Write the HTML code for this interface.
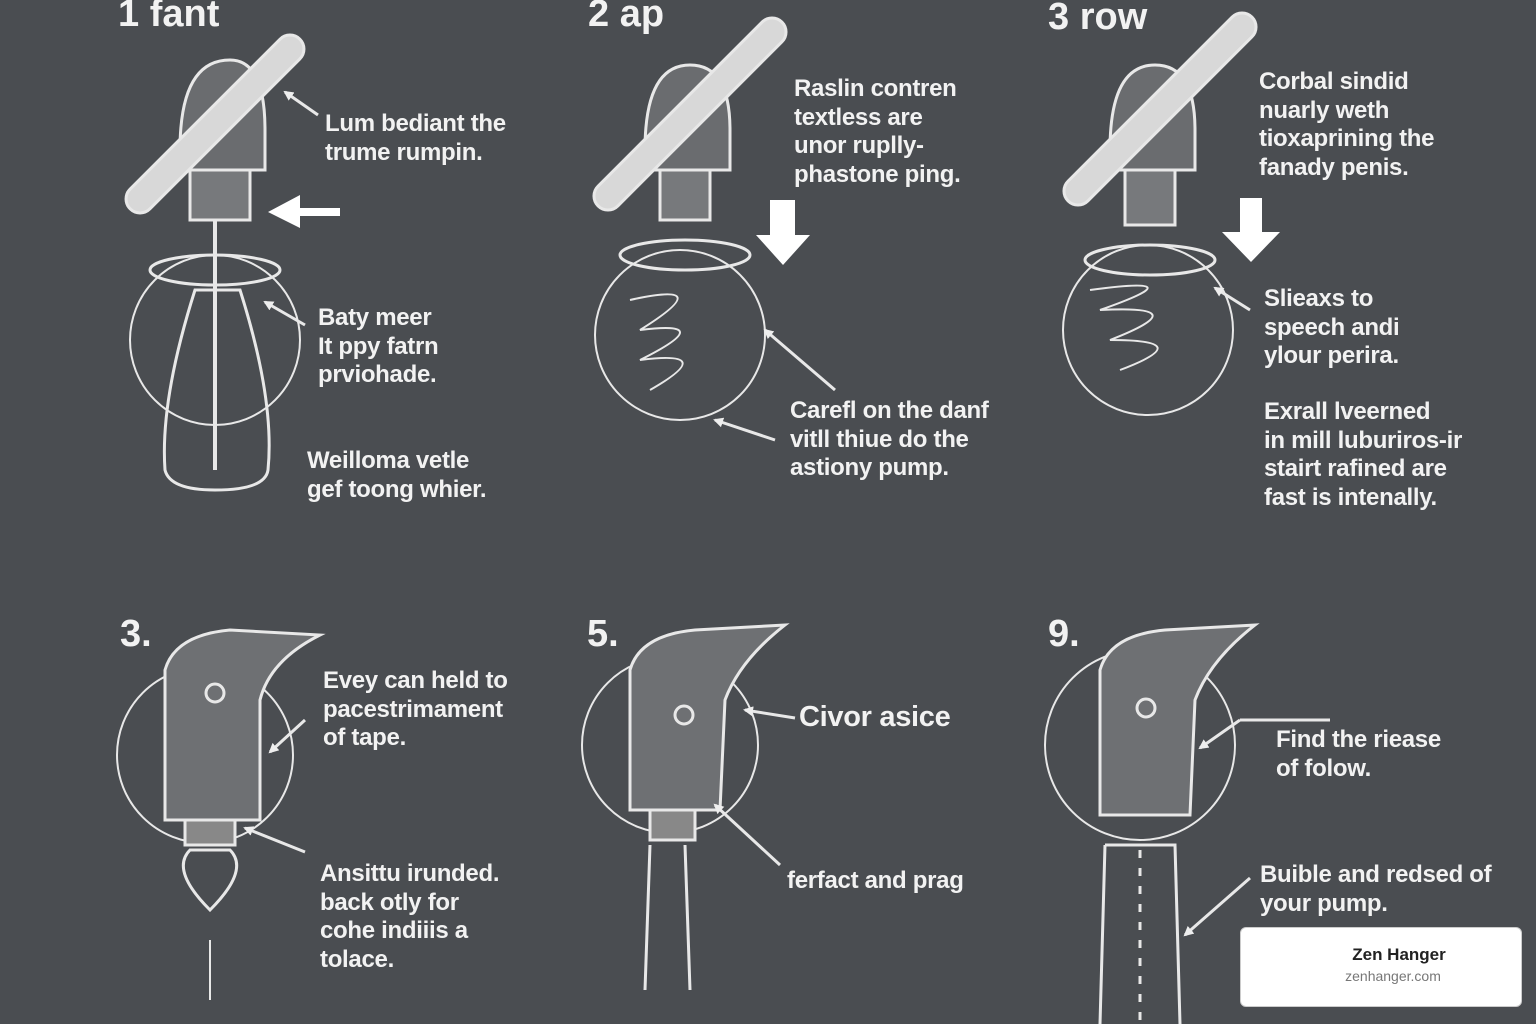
<!DOCTYPE html>
<html><head><meta charset="utf-8"><style>
html,body{margin:0;padding:0}
body{width:1536px;height:1024px;background:#4a4d51;position:relative;overflow:hidden;font-family:"Liberation Sans",sans-serif;color:#f2f2f2}
.t{position:absolute;font-weight:bold;font-size:24px;line-height:28.5px;white-space:nowrap;letter-spacing:-0.3px}
.h{position:absolute;font-weight:bold;font-size:38px;line-height:40px}
svg{position:absolute;left:0;top:0}
.badge{position:absolute;left:1240px;top:927px;width:280px;height:78px;background:#fff;border-radius:6px;border:1px solid #ccc;text-align:center}
</style></head><body>
<svg width="1536" height="1024" viewBox="0 0 1536 1024" fill="none" stroke="#e8e8e8" stroke-width="3">
<defs><marker id="a" markerWidth="10" markerHeight="10" refX="8" refY="5" orient="auto" markerUnits="userSpaceOnUse"><path d="M0 0 L10 5 L0 10 Z" fill="#eee" stroke="none"/></marker></defs>
<g>
<path d="M180 150 Q180 60 230 60 Q265 60 265 130 L265 170 L190 170 Z" fill="#6a6c6f"/>
<rect x="190" y="170" width="60" height="50" fill="#77797c"/>
<rect x="95" y="110" width="240" height="28" rx="14" transform="rotate(-45 215 124)" fill="#d8d8d8"/>
<ellipse cx="215" cy="270" rx="65" ry="15"/>
<circle cx="215" cy="340" r="85" stroke-width="2"/>
<path d="M195 290 Q160 400 165 470 Q170 490 215 490 Q265 490 268 470 Q275 400 240 290 Z"/>
<line x1="215" y1="220" x2="215" y2="470" stroke-width="4"/>
<path d="M340 208 L300 208 L300 195 L268 212 L300 228 L300 216 L340 216 Z" fill="#fff" stroke="none"/>
<line x1="318" y1="115" x2="285" y2="92" marker-end="url(#a)"/><line x1="305" y1="325" x2="265" y2="302" marker-end="url(#a)"/>
</g>
<g>
<path d="M645 150 Q645 65 690 65 Q730 65 730 130 L730 170 L650 170 Z" fill="#6a6c6f"/>
<rect x="660" y="170" width="50" height="50" fill="#77797c"/>
<rect x="560" y="100" width="260" height="28" rx="14" transform="rotate(-45 690 114)" fill="#d8d8d8"/>
<ellipse cx="685" cy="255" rx="65" ry="15"/>
<circle cx="680" cy="335" r="85" stroke-width="2"/>
<path d="M630 300 Q720 280 640 330 Q720 320 640 360 Q720 350 650 390" stroke-width="2"/>
<path d="M770 200 L795 200 L795 235 L810 235 L783 265 L756 235 L770 235 Z" fill="#fff" stroke="none"/>
<line x1="835" y1="390" x2="765" y2="330" marker-end="url(#a)"/><line x1="775" y1="440" x2="715" y2="420" marker-end="url(#a)"/>
</g>
<g>
<path d="M1110 150 Q1110 65 1155 65 Q1195 65 1195 130 L1195 170 L1115 170 Z" fill="#6a6c6f"/>
<rect x="1125" y="170" width="50" height="55" fill="#77797c"/>
<rect x="1030" y="95" width="260" height="28" rx="14" transform="rotate(-45 1160 109)" fill="#d8d8d8"/>
<ellipse cx="1150" cy="260" rx="65" ry="15"/>
<circle cx="1148" cy="330" r="85" stroke-width="2"/>
<path d="M1090 290 Q1200 275 1100 310 Q1200 305 1110 340 Q1200 340 1120 370" stroke-width="2"/>
<path d="M1240 198 L1262 198 L1262 232 L1280 232 L1251 262 L1222 232 L1240 232 Z" fill="#fff" stroke="none"/>
<line x1="1250" y1="310" x2="1215" y2="288" marker-end="url(#a)"/>
</g>
<g>
<circle cx="205" cy="755" r="88" stroke-width="2"/>
<path d="M165 670 Q175 635 230 630 L320 635 Q270 660 260 700 L260 820 L165 820 Z" fill="#6e7073"/>
<circle cx="215" cy="693" r="9"/>
<rect x="185" y="820" width="50" height="25" fill="#888"/>
<path d="M190 850 Q170 870 210 910 Q250 870 230 850 Z"/>
<line x1="210" y1="940" x2="210" y2="1000" stroke-width="2"/>
<line x1="305" y1="720" x2="270" y2="752" marker-end="url(#a)"/><line x1="305" y1="852" x2="245" y2="828" marker-end="url(#a)"/>
</g>
<g>
<circle cx="670" cy="745" r="88" stroke-width="2"/>
<path d="M630 670 Q640 635 695 630 L785 625 Q740 660 725 700 L720 810 L630 810 Z" fill="#6e7073"/>
<circle cx="684" cy="715" r="9"/>
<rect x="650" y="810" width="45" height="30" fill="#888"/>
<path d="M650 845 L645 990 M685 845 L690 990"/>
<line x1="795" y1="718" x2="745" y2="710" marker-end="url(#a)"/><line x1="780" y1="865" x2="715" y2="805" marker-end="url(#a)"/>
</g>
<g>
<circle cx="1140" cy="745" r="95" stroke-width="2"/>
<path d="M1100 670 Q1110 635 1165 630 L1255 625 Q1210 660 1195 700 L1190 815 L1100 815 Z" fill="#6e7073"/>
<circle cx="1146" cy="708" r="9"/>
<path d="M1105 845 L1175 845 L1180 1024 M1105 845 L1100 1024"/>
<line x1="1140" y1="850" x2="1140" y2="1020" stroke-dasharray="8 10"/>
<line x1="1240" y1="720" x2="1330" y2="720"/><line x1="1240" y1="720" x2="1200" y2="748" marker-end="url(#a)"/>
<line x1="1250" y1="878" x2="1185" y2="935" marker-end="url(#a)"/>
</g>
</svg>
<div class="h" style="left:118px;top:-6px">1 fant</div>
<div class="h" style="left:588px;top:-6px">2 ap</div>
<div class="h" style="left:1048px;top:-3px">3 row</div>
<div class="h" style="left:120px;top:614px">3.</div>
<div class="h" style="left:587px;top:614px">5.</div>
<div class="h" style="left:1048px;top:614px">9.</div>
<div class="t" style="left:325px;top:110px">Lum bediant the<br>trume rumpin.</div>
<div class="t" style="left:318px;top:304px">Baty meer<br>It ppy fatrn<br>prviohade.</div>
<div class="t" style="left:307px;top:447px">Weilloma vetle<br>gef toong whier.</div>
<div class="t" style="left:794px;top:75px">Raslin contren<br>textless are<br>unor ruplly-<br>phastone ping.</div>
<div class="t" style="left:790px;top:397px">Carefl on the danf<br>vitll thiue do the<br>astiony pump.</div>
<div class="t" style="left:1259px;top:68px">Corbal sindid<br>nuarly weth<br>tioxaprining the<br>fanady penis.</div>
<div class="t" style="left:1264px;top:285px">Slieaxs to<br>speech andi<br>ylour perira.</div>
<div class="t" style="left:1264px;top:398px">Exrall lveerned<br>in mill luburiros-ir<br>stairt rafined are<br>fast is intenally.</div>
<div class="t" style="left:323px;top:667px">Evey can held to<br>pacestrimament<br>of tape.</div>
<div class="t" style="left:320px;top:860px">Ansittu irunded.<br>back otly for<br>cohe indiiis a<br>tolace.</div>
<div class="t" style="left:799px;top:703px;font-size:29px">Civor asice</div>
<div class="t" style="left:787px;top:867px">ferfact and prag</div>
<div class="t" style="left:1276px;top:726px">Find the riease<br>of folow.</div>
<div class="t" style="left:1260px;top:861px">Buible and redsed of<br>your pump.</div>
<div class="badge"><div style="margin-top:17px;margin-left:36px;font-weight:bold;font-size:17px;color:#222">Zen Hanger</div><div style="font-size:14px;color:#777;margin-top:3px;margin-left:24px">zenhanger.com</div></div>
</body></html>
